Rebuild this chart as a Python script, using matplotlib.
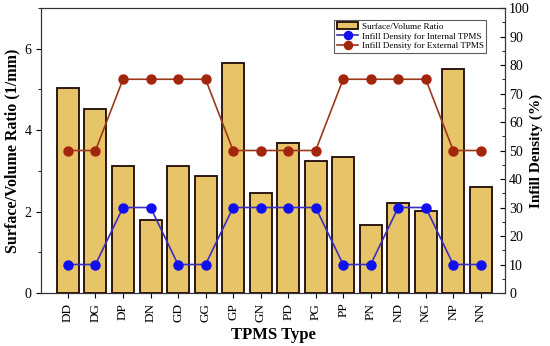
import numpy as np
import matplotlib
matplotlib.use('Agg')
import matplotlib.pyplot as plt
from matplotlib.ticker import MultipleLocator

plt.rcParams['font.family'] = ['Liberation Serif', 'DejaVu Serif']

types = ['DD', 'DG', 'DP', 'DN', 'GD', 'GG', 'GP', 'GN',
         'PD', 'PG', 'PP', 'PN', 'ND', 'NG', 'NP', 'NN']
sv_ratio = [5.04, 4.52, 3.12, 1.80, 3.12, 2.87, 5.66, 2.46,
            3.68, 3.23, 3.35, 1.68, 2.20, 2.02, 5.50, 2.60]
infill_internal = [10, 10, 30, 30, 10, 10, 30, 30,
                   30, 30, 10, 10, 30, 30, 10, 10]
infill_external = [50, 50, 75, 75, 75, 75, 50, 50,
                   50, 50, 75, 75, 75, 75, 50, 50]

x = np.arange(len(types))

fig = plt.figure(figsize=(5.5, 3.46), dpi=100)
ax = fig.add_axes([41 / 550, 1 - 293 / 346, 464 / 550, 285 / 346])
ax2 = ax.twinx()

b = ax.bar(x, sv_ratio, width=0.8, color='#E8C468', edgecolor='#1e0805',
           linewidth=1.3, label='Surface/Volume Ratio', zorder=2)
l1, = ax2.plot(x, infill_internal, color='#3a2fc0', lw=1.2, marker='o',
               markersize=6.5, markerfacecolor='#1010ee', markeredgecolor='#1010ee',
               label='Infill Density for Internal TPMS', zorder=3)
l2, = ax2.plot(x, infill_external, color='#9a3a1a', lw=1.2, marker='o',
               markersize=6.5, markerfacecolor='#9a2a0a', markeredgecolor='#b02010',
               label='Infill Density for External TPMS', zorder=3)

ax.set_xlim(-0.98, 15.88)
ax.set_ylim(0, 7)
ax2.set_ylim(0, 100)

ax.set_xticks(x)
ax.set_xticklabels(types, rotation=90, fontsize=9.5)
ax.yaxis.set_major_locator(MultipleLocator(2))
ax.yaxis.set_minor_locator(MultipleLocator(1))
ax2.yaxis.set_major_locator(MultipleLocator(10))
ax2.yaxis.set_minor_locator(MultipleLocator(5))
ax.tick_params(axis='y', labelsize=10, direction='out')
ax.tick_params(axis='x', direction='out')
ax2.tick_params(axis='y', which='both', labelsize=10, direction='in', pad=3)

ax.set_xlabel('TPMS Type', fontsize=12, fontweight='bold')
ax.set_ylabel('Surface/Volume Ratio (1/mm)', fontsize=11.5, fontweight='bold',
              labelpad=3)
ax2.set_ylabel('Infill Density (%)', fontsize=11, fontweight='bold',
               labelpad=0)

for a in (ax, ax2):
    for s in a.spines.values():
        s.set_color('#333333')

leg = ax2.legend([b, l1, l2], [b.get_label(), l1.get_label(), l2.get_label()],
                 loc='upper right', bbox_to_anchor=(0.97, 0.975), fontsize=6.6,
                 frameon=True, fancybox=False, edgecolor='#333333',
                 handlelength=2.3, borderpad=0.3, labelspacing=0.15,
                 handletextpad=0.4, markerscale=0.9)
leg.get_frame().set_linewidth(0.8)

fig.savefig('out.png', dpi=100)
